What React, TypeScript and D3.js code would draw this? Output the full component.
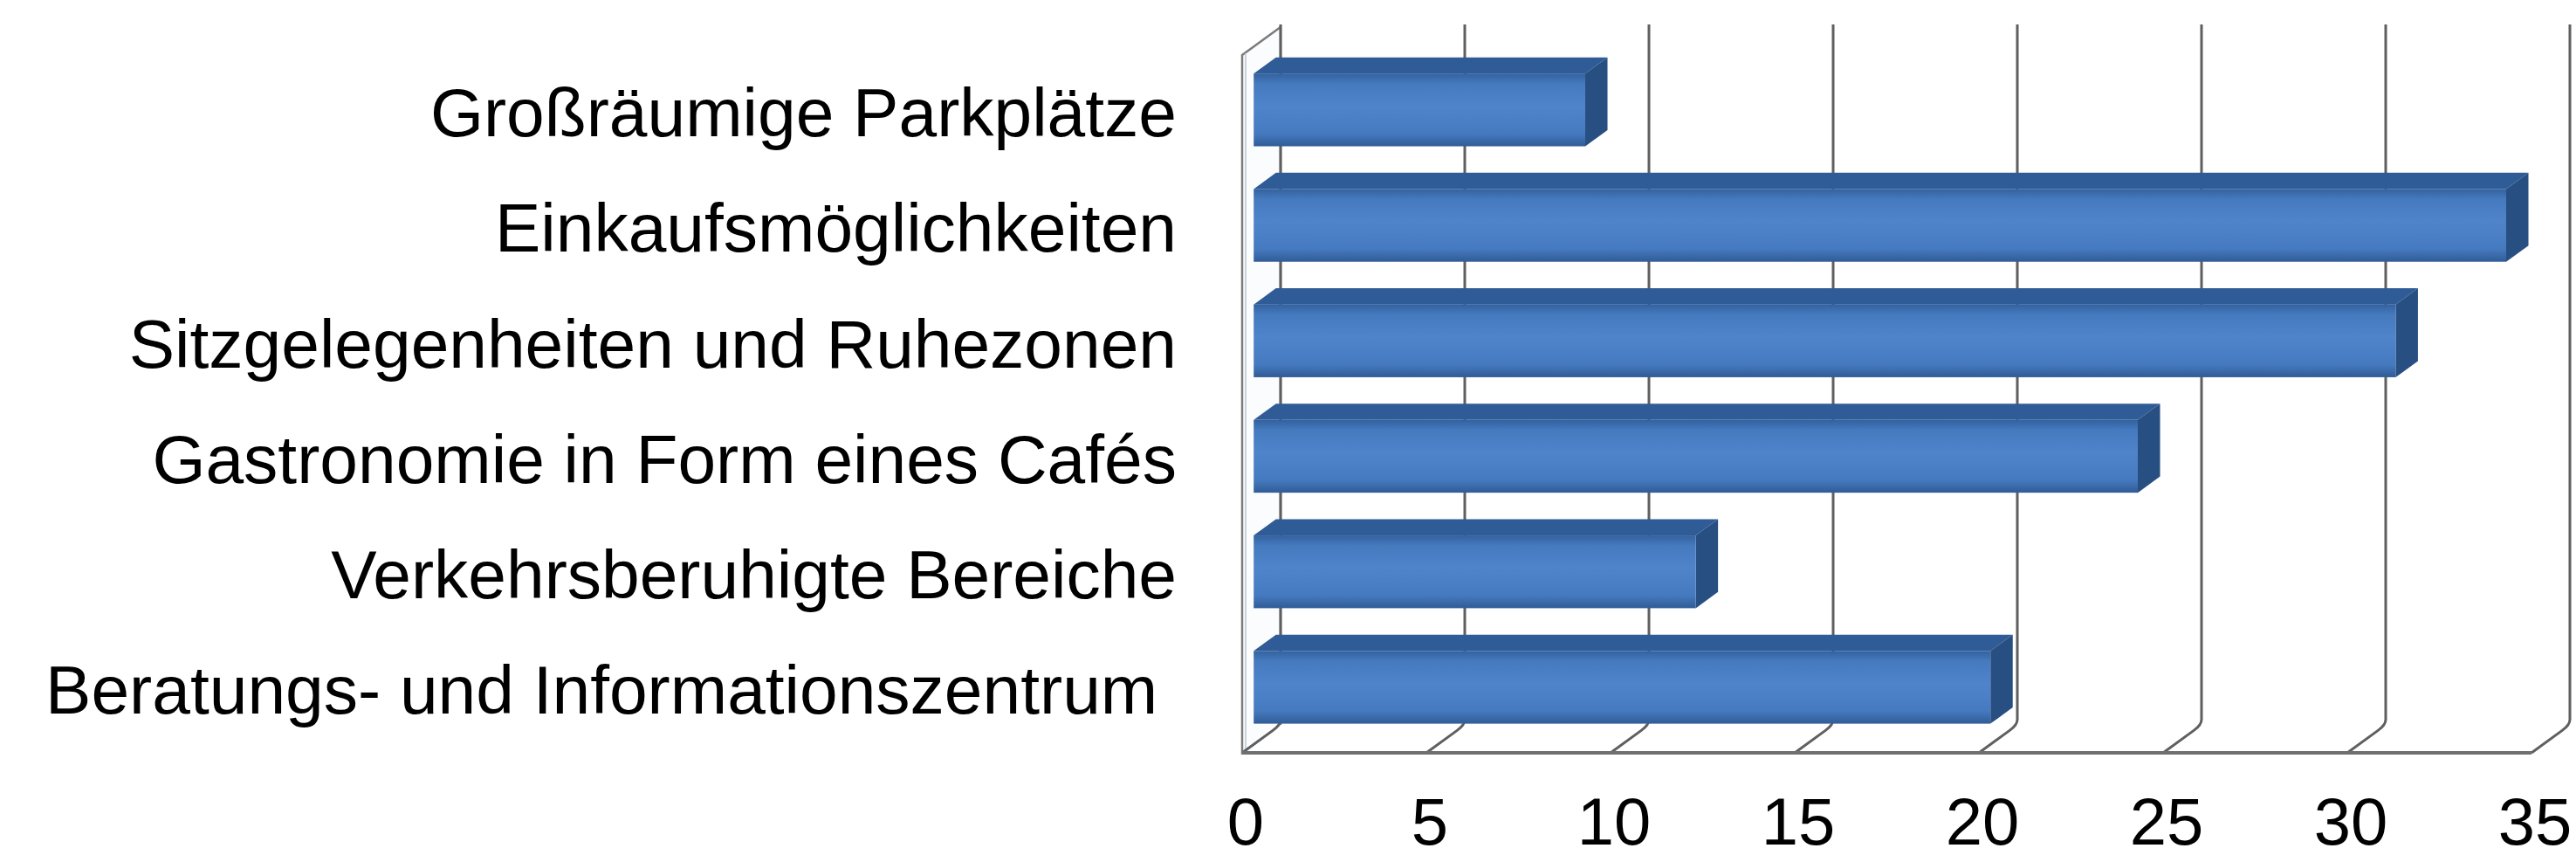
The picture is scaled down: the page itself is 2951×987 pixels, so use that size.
import React from 'react';
import * as d3 from 'd3';

const categories = [
  'Großräumige Parkplätze',
  'Einkaufsmöglichkeiten',
  'Sitzgelegenheiten und Ruhezonen',
  'Gastronomie in Form eines Cafés',
  'Verkehrsberuhigte Bereiche',
  'Beratungs- und Informationszentrum ',
];
const values = [9, 34, 31, 24, 12, 20];
const ticks = [0, 5, 10, 15, 20, 25, 30, 35];

const W = 2951;
const H = 987;
// 3D depth offset (front plane -> back wall)
const DX = 44;
const DY = 32;
const Z1 = 0.3; // bar front face depth
const Z2 = 0.88; // bar back face depth
const FLOOR_Y = 862;
const TOP_Y = 63;

const App: React.FC = () => {
  const x = d3.scaleLinear().domain([0, 35]).range([1423, 2900]);
  const y = d3.scaleBand<string>()
    .domain(categories)
    .range([70, FLOOR_Y])
    .paddingInner(0.37)
    .paddingOuter(0.18);

  const px = (v: number, z: number) => x(v) + DX * z;
  const py = (yy: number, z: number) => yy - DY * z;
  const pts = (arr: [number, number][]) => arr.map(p => p.join(',')).join(' ');

  const font = '"Liberation Sans", Arial, sans-serif';

  return (
    <div style={{ position: 'absolute', left: 0, top: 0 }}>
      <svg width={W} height={H} style={{ display: 'block', background: '#fff' }}>
        <defs>
          <linearGradient id="barFront" x1="0" y1="0" x2="0" y2="1">
            <stop offset="0" stopColor="#33619e" />
            <stop offset="0.14" stopColor="#457abf" />
            <stop offset="0.45" stopColor="#4f84cb" />
            <stop offset="0.82" stopColor="#467ac0" />
            <stop offset="1" stopColor="#305c96" />
          </linearGradient>
        </defs>

        {/* left side wall */}
        <polygon
          points={pts([[x(0), TOP_Y], [px(0, 1), TOP_Y - DY], [px(0, 1), FLOOR_Y - DY], [x(0), FLOOR_Y]])}
          fill="#fbfcfd"
          stroke="#7c7c7c"
          strokeWidth={2.5}
        />
        <line x1={x(0) + 4} y1={TOP_Y - 2} x2={x(0) + 4} y2={FLOOR_Y - 2} stroke="#c9d3dc" strokeWidth={2} />

        {/* floor */}
        <polygon
          points={pts([[x(0), FLOOR_Y], [px(0, 1), FLOOR_Y - DY], [px(35, 1), FLOOR_Y - DY], [x(35), FLOOR_Y]])}
          fill="#ffffff"
        />

        {/* gridlines on back wall, bending onto the floor */}
        {ticks.map(t => (
          <path
            key={t}
            d={`M${px(t, 1)},${TOP_Y - DY - 3} L${px(t, 1)},${FLOOR_Y - DY - 6} Q${px(t, 1)},${FLOOR_Y - DY} ${px(t, 0.8)},${py(FLOOR_Y, 0.8)} L${x(t)},${FLOOR_Y}`}
            fill="none"
            stroke="#5f5f5f"
            strokeWidth={3}
          />
        ))}

        {/* floor front edge */}
        <line x1={x(0)} y1={FLOOR_Y} x2={x(35)} y2={FLOOR_Y} stroke="#707070" strokeWidth={4} />

        {/* bars */}
        {categories.map((c, i) => {
          const v = values[i];
          const yt = y(c) as number;
          const yb = yt + y.bandwidth();
          const fx0 = px(0, Z1), fx1 = px(v, Z1);
          const bx0 = px(0, Z2), bx1 = px(v, Z2);
          const ft = py(yt, Z1), fb = py(yb, Z1);
          const bt = py(yt, Z2), bb = py(yb, Z2);
          return (
            <g key={c}>
              <polygon points={pts([[fx0, ft], [bx0, bt], [bx1, bt], [fx1, ft]])} fill="#2f5c97" />
              <polygon points={pts([[fx1, ft], [bx1, bt], [bx1, bb], [fx1, fb]])} fill="#284f82" />
              <rect x={fx0} y={ft} width={fx1 - fx0} height={fb - ft} fill="url(#barFront)" />
            </g>
          );
        })}

        {/* category labels */}
        {categories.map(c => (
          <text
            key={c}
            x={1348}
            y={(y(c) as number) + y.bandwidth() / 2}
            textAnchor="end"
            dominantBaseline="middle"
            fontFamily={font}
            fontSize={78.5}
            fill="#000"
            style={{ whiteSpace: 'pre' }}
          >
            {c}
          </text>
        ))}

        {/* value axis labels */}
        {ticks.map(t => (
          <text
            key={t}
            x={x(t) + 4}
            y={967}
            textAnchor="middle"
            fontFamily={font}
            fontSize={76}
            fill="#000"
          >
            {t}
          </text>
        ))}
      </svg>
    </div>
  );
};

export default App;
